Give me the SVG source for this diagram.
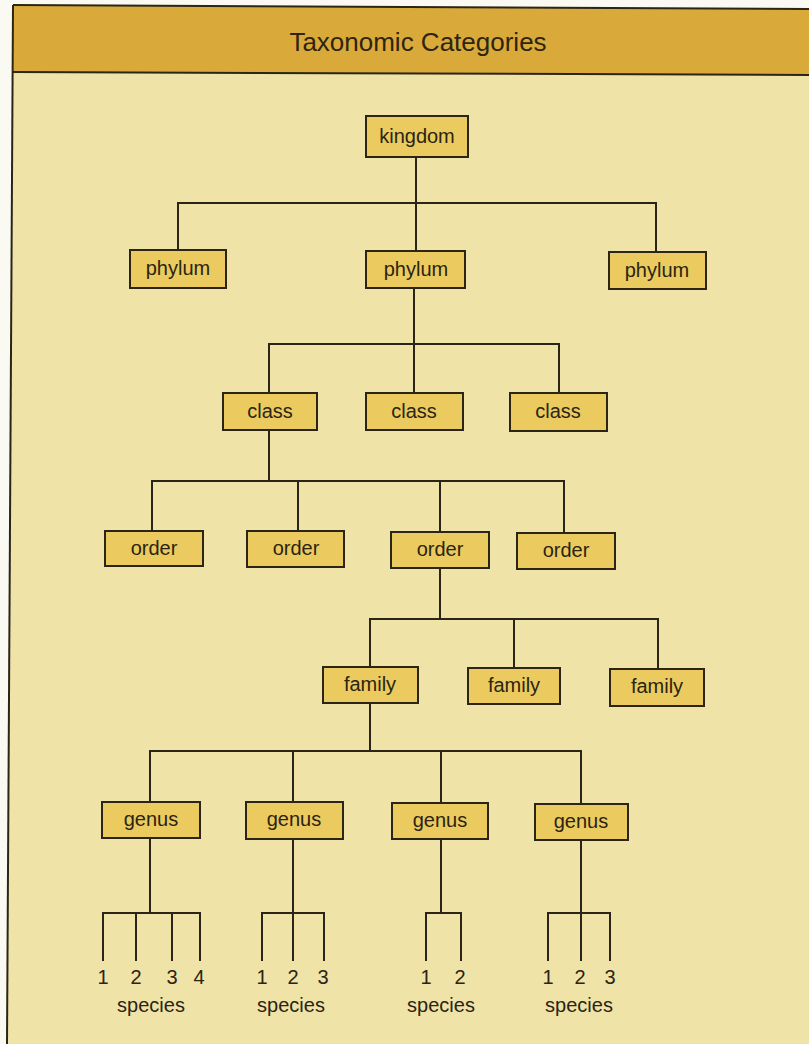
<svg xmlns="http://www.w3.org/2000/svg" width="809" height="1044" viewBox="0 0 809 1044">
<defs>
<style>
.box{fill:#EBCB5F;stroke:#2A2517;stroke-width:2}
.lbl{font-family:"Liberation Sans",Arial,sans-serif;font-size:20px;fill:#2B2412;text-anchor:middle}
.conn{fill:none;stroke:#2A2517;stroke-width:2;stroke-linecap:square}
.title{font-family:"Liberation Sans",Arial,sans-serif;font-size:26px;fill:#2E2410;text-anchor:middle}
</style>
</defs>
<rect x="0" y="0" width="809" height="1044" fill="#FBFAF2"/>
<polygon points="13,5 809,9 809,1044 7,1044" fill="#EFE3A8"/>
<polygon points="13,5 809,9 809,75 12.6,72" fill="#D9AA3A"/>
<g id="frame" fill="none" stroke="#2A2517" stroke-width="2">
<line x1="13" y1="5" x2="809" y2="9"/>
<line x1="12.6" y1="72" x2="809" y2="75"/>
<line x1="13" y1="5" x2="7" y2="1044"/>
</g>
<text class="title" x="418" y="51">Taxonomic Categories</text>

<g id="connectors" class="conn">
<path d="M416,157V203M178,250V203H656V252M416,203V251"/>
<path d="M414,288V344M269,393V344H559V393M414,344V393"/>
<path d="M269,430V481M152,531V481H564V533M298,481V531M440,481V532"/>
<path d="M440,568V619M370,667V619H658V669M514,619V668"/>
<path d="M370,703V751M150,802V751H581V804M293,751V802M441,751V803"/>
<path d="M150,838V913M103,960V913H200V960M136,913V960M172,913V960"/>
<path d="M293,839V960M262,960V913H324V960"/>
<path d="M441,839V913M426,960V913H461V960"/>
<path d="M581,840V960M548,960V913H610V960"/>
</g>

<g id="kingdom"><rect class="box" x="366" y="116" width="102" height="41"/><text class="lbl" x="417" y="143">kingdom</text></g>

<g id="phylum1"><rect class="box" x="130" y="250" width="96" height="38"/><text class="lbl" x="178" y="275">phylum</text></g>
<g id="phylum2"><rect class="box" x="366" y="251" width="99" height="37"/><text class="lbl" x="416" y="276">phylum</text></g>
<g id="phylum3"><rect class="box" x="609" y="252" width="97" height="37"/><text class="lbl" x="657" y="277">phylum</text></g>

<g id="class1"><rect class="box" x="223" y="393" width="94" height="37"/><text class="lbl" x="270" y="418">class</text></g>
<g id="class2"><rect class="box" x="366" y="393" width="97" height="37"/><text class="lbl" x="414" y="418">class</text></g>
<g id="class3"><rect class="box" x="510" y="393" width="97" height="38"/><text class="lbl" x="558" y="418">class</text></g>

<g id="order1"><rect class="box" x="105" y="531" width="98" height="35"/><text class="lbl" x="154" y="555">order</text></g>
<g id="order2"><rect class="box" x="247" y="531" width="97" height="36"/><text class="lbl" x="296" y="555">order</text></g>
<g id="order3"><rect class="box" x="391" y="532" width="98" height="36"/><text class="lbl" x="440" y="556">order</text></g>
<g id="order4"><rect class="box" x="517" y="533" width="98" height="36"/><text class="lbl" x="566" y="557">order</text></g>

<g id="family1"><rect class="box" x="323" y="667" width="95" height="36"/><text class="lbl" x="370" y="691">family</text></g>
<g id="family2"><rect class="box" x="468" y="668" width="92" height="36"/><text class="lbl" x="514" y="692">family</text></g>
<g id="family3"><rect class="box" x="610" y="669" width="94" height="37"/><text class="lbl" x="657" y="693">family</text></g>

<g id="genus1"><rect class="box" x="102" y="802" width="98" height="36"/><text class="lbl" x="151" y="826">genus</text></g>
<g id="genus2"><rect class="box" x="246" y="802" width="97" height="37"/><text class="lbl" x="294" y="826">genus</text></g>
<g id="genus3"><rect class="box" x="392" y="803" width="96" height="36"/><text class="lbl" x="440" y="827">genus</text></g>
<g id="genus4"><rect class="box" x="535" y="804" width="93" height="36"/><text class="lbl" x="581" y="828">genus</text></g>

<g id="species1">
<text class="lbl" x="103" y="984">1</text><text class="lbl" x="136" y="984">2</text><text class="lbl" x="172" y="984">3</text><text class="lbl" x="199" y="984">4</text>
<text class="lbl" x="151" y="1012">species</text>
</g>
<g id="species2">
<text class="lbl" x="262" y="984">1</text><text class="lbl" x="293" y="984">2</text><text class="lbl" x="323" y="984">3</text>
<text class="lbl" x="291" y="1012">species</text>
</g>
<g id="species3">
<text class="lbl" x="426" y="984">1</text><text class="lbl" x="460" y="984">2</text>
<text class="lbl" x="441" y="1012">species</text>
</g>
<g id="species4">
<text class="lbl" x="548" y="984">1</text><text class="lbl" x="580" y="984">2</text><text class="lbl" x="610" y="984">3</text>
<text class="lbl" x="579" y="1012">species</text>
</g>
</svg>
